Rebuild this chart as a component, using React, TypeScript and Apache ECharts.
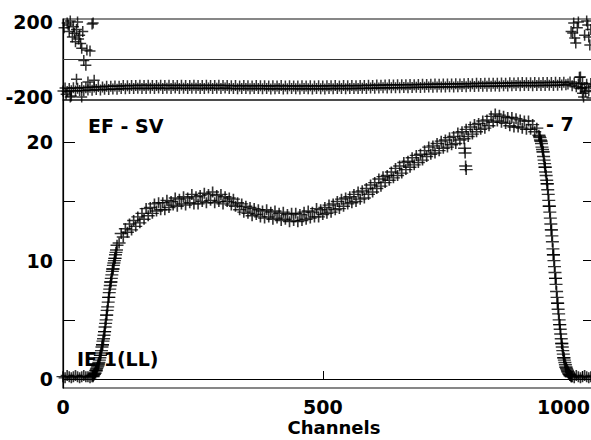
import React, { useEffect, useRef } from "react";
import * as echarts from "echarts";

// One value every CHANNEL_STEP channels, starting at channel 0
const CHANNEL_STEP = 4;

// Bottom panel: counts per channel
const counts: number[] = [
  0.2, 0.1, 0.3, 0.2, 0.1, 0.2, 0.3, 0.2, 0.1, 0.2, 0.3, 0.2, 0.2, 0.1, 0.2, 0.4,
  0.7, 1.2, 2.0, 2.9, 4.0, 5.4, 6.9, 8.2, 9.3, 10.2, 11.3, 11.5, 12.3, 12.0, 12.7, 12.4,
  13.1, 12.6, 13.4, 12.9, 13.7, 13.2, 14.0, 13.5, 14.4, 13.8, 14.5, 14.0, 14.8, 14.2, 14.9, 14.3,
  14.9, 14.3, 15.1, 14.5, 15.0, 14.7, 15.3, 14.6, 15.2, 14.8, 15.4, 14.7, 15.3, 14.9, 15.6, 14.8,
  15.4, 14.8, 15.5, 15.0, 15.7, 14.9, 15.6, 15.1, 15.8, 14.9, 15.5, 15.0, 15.6, 14.8, 15.4, 15.0,
  15.3, 14.7, 15.2, 14.6, 14.9, 14.3, 14.8, 14.1, 14.6, 14.0, 14.5, 13.8, 14.4, 13.9, 14.3, 13.7,
  14.2, 13.6, 14.3, 13.7, 14.1, 13.5, 14.2, 13.6, 14.0, 13.4, 14.1, 13.5, 13.9, 13.3, 14.0, 13.4,
  14.0, 13.3, 13.9, 13.4, 14.1, 13.5, 14.2, 13.6, 14.1, 13.7, 14.4, 13.7, 14.3, 13.9, 14.5, 14.0,
  14.7, 14.1, 14.8, 14.3, 15.0, 14.4, 15.2, 14.6, 15.3, 14.8, 15.4, 14.9, 15.6, 15.0, 15.8, 15.2,
  15.9, 15.3, 16.1, 15.6, 16.4, 15.8, 16.6, 16.1, 16.9, 16.3, 17.1, 16.6, 17.2, 16.8, 17.5, 17.0,
  17.8, 17.2, 18.0, 17.4, 18.3, 17.7, 18.4, 17.9, 18.7, 18.1, 18.9, 18.3, 19.0, 18.5, 19.3, 18.8,
  19.6, 19.0, 19.7, 19.1, 19.9, 19.3, 20.1, 19.5, 20.2, 19.6, 20.4, 19.8, 20.5, 19.9, 20.8, 20.2,
  20.9, 20.3, 21.1, 20.5, 21.3, 20.7, 21.5, 20.9, 21.6, 21.1, 21.8, 21.2, 21.9, 21.4, 22.2, 21.7,
  22.4, 21.8, 22.3, 21.7, 22.2, 21.6, 22.1, 21.4, 22.1, 21.3, 22.0, 21.3, 21.9, 21.2, 21.8, 21.1,
  21.8, 21.1, 21.5, 20.9, 21.2, 20.6, 20.1, 19.2, 17.9, 16.5, 14.6, 12.6, 10.5, 8.5, 6.4, 4.6,
  3.0, 1.8, 1.0, 0.6, 0.3, 0.2, 0.1, 0.3, 0.2, 0.1, 0.2, 0.3, 0.2, 0.1, 0.2, 0.2,
];

// Steep edges, one value per channel
const RISE_START = 57;
const riseCounts: number[] = [
  0.3, 0.2, 0.3, 0.4, 0.5, 0.5, 0.7, 0.8, 0.9, 1.0, 1.1, 1.3, 1.4, 1.6, 1.8, 2.0,
  2.2, 2.4, 2.7, 2.9, 3.2, 3.4, 3.7, 4.0, 4.4, 4.7, 5.0, 5.4, 5.8, 6.1, 6.5, 6.9,
  7.3, 7.6, 7.9, 8.2, 8.5, 8.8, 9.1, 9.3, 9.6, 9.8, 10.0, 10.2, 10.5, 10.7, 10.9,
];
const FALL_START = 917;
const fallCounts: number[] = [
  20.5, 20.4, 20.2, 20.1, 19.9, 19.6, 19.4, 19.2, 18.8, 18.5, 18.2, 17.9, 17.5, 17.2, 16.8, 16.5,
  16.0, 15.6, 15.1, 14.6, 14.1, 13.6, 13.1, 12.6, 12.1, 11.6, 11.0, 10.5, 10.0, 9.5, 9.0, 8.5,
  8.0, 7.4, 6.9, 6.4, 5.9, 5.5, 5.0, 4.6, 4.2, 3.8, 3.4, 3.0, 2.7, 2.4, 2.1, 1.8,
  1.6, 1.4, 1.2, 1.0, 0.9, 0.8, 0.7, 0.6, 0.5, 0.4, 0.4, 0.3, 0.3, 0.2, 0.2,
];

// Isolated points below the band near channel 775: [channel, counts]
const countOutliers: [number, number][] = [
  [773, 19.5], [774, 19.1], [775, 18.0], [776, 17.7],
];

// Top panel: residuals per channel
const residuals: number[] = [
  -168, -152, -170, -155, -166, -150, -168, -153, -165, -149, -167, -151, -163, -148, -164, -147,
  -160, -144, -162, -146, -158, -142, -160, -143, -157, -141, -158, -142, -155, -139, -156, -140,
  -154, -138, -155, -139, -153, -137, -155, -138, -154, -137, -153, -139, -155, -138, -152, -137,
  -154, -138, -153, -137, -155, -139, -152, -138, -154, -137, -153, -139, -155, -138, -153, -137,
  -153, -139, -155, -138, -154, -137, -152, -139, -155, -138, -153, -137, -154, -139, -152, -138,
  -155, -140, -154, -139, -156, -141, -155, -139, -154, -140, -156, -141, -155, -139, -154, -140,
  -156, -140, -155, -141, -157, -140, -156, -141, -155, -139, -157, -141, -156, -140, -155, -141,
  -156, -141, -157, -140, -155, -141, -156, -140, -157, -141, -155, -140, -156, -141, -157, -140,
  -155, -140, -156, -139, -155, -141, -154, -139, -156, -140, -155, -139, -154, -140, -155, -139,
  -153, -138, -154, -137, -152, -138, -153, -136, -152, -137, -151, -136, -152, -135, -151, -136,
  -150, -135, -151, -134, -149, -135, -150, -133, -149, -134, -148, -133, -149, -132, -148, -133,
  -147, -132, -148, -131, -146, -132, -147, -130, -146, -131, -145, -130, -146, -129, -145, -130,
  -144, -129, -145, -128, -143, -129, -144, -127, -143, -128, -142, -127, -143, -126, -142, -127,
  -141, -126, -142, -125, -140, -126, -141, -124, -140, -125, -139, -124, -140, -123, -139, -124,
  -139, -124, -140, -123, -138, -124, -139, -122, -138, -123, -137, -122, -138, -121, -137, -122,
  -136, -121, -135, -130, -120, -140, -126, -145, -131, -155, -125, -150, -132, -165, -128, -143,
];

// Scattered residuals at both ends: [channel, residual]
const residualOutliers: [number, number][] = [
  [2, 170], [6, -185], [8, 195], [10, 184], [12, 150], [14, 205], [16, -195], [18, 120],
  [20, 175], [22, 140], [24, 95], [26, 160], [28, 200], [30, 110], [32, 130], [34, 85],
  [36, 60], [38, 150], [40, -5], [44, -30], [46, 51], [48, -120], [52, 45], [56, 190],
  [58, 195], [60, -110], [14, -200], [36, -200], [26, -105],
  [978, 150], [981, 141], [983, 195], [985, 115], [987, 88], [990, 170], [992, 200],
  [994, -95], [996, -93], [998, -150], [1000, -180], [1002, -200], [1004, 130], [1006, -170],
  [1008, 205], [1010, 184], [1012, 120], [1014, 77], [1016, 160], [1018, -205],
];

const xTickValues = [0, 500, 1000];
const yTickValues = [0, 5, 10, 15, 20];
const yLabelValues = [0, 10, 20];
const residualLabelValues = [-200, 200];

const FONT = "DejaVu Sans";

export default function App() {
  const ref = useRef<HTMLDivElement>(null);

  useEffect(() => {
    const chart = echarts.init(ref.current!, null, { renderer: "svg" });
    const countsData = counts
      .map((v, i) => [i * CHANNEL_STEP, v])
      .concat(riseCounts.map((v, i) => [RISE_START + i, v]))
      .concat(fallCounts.map((v, i) => [FALL_START + i, v]))
      .concat(countOutliers);
    const residualData = residuals
      .map((v, i) => [i * CHANNEL_STEP, v])
      .concat(residualOutliers);

    const plus = "path://M0,5L10,5M5,0L5,10";
    const labelStyle = {
      fontFamily: FONT,
      fontWeight: "bold" as const,
      fontSize: 19,
      color: "#000",
      formatter: (v: number) => String(v),
    };
    const lineStyle = { color: "#000", width: 1.2 };
    const plusStyle = {
      color: "rgba(0,0,0,0)",
      borderColor: "#000",
      borderWidth: 1.5,
    };

    chart.setOption({
      animation: false,
      backgroundColor: "#fff",
      grid: [
        { left: 63, top: 19, height: 81, width: 532, outerBoundsMode: "none", containLabel: false, show: true, borderColor: "#111", borderWidth: 1.2 },
        { left: 63, top: 100, height: 288, width: 532, outerBoundsMode: "none", containLabel: false, show: true, borderColor: "#111", borderWidth: 1.2 },
      ],
      xAxis: [
        { gridIndex: 0, type: "value", min: 0, max: 1024, show: false },
        {
          gridIndex: 1,
          type: "value",
          min: 0,
          max: 1024,
          axisLine: { show: true, lineStyle },
          axisTick: { show: true, inside: true, length: 8, customValues: xTickValues, lineStyle: { color: "#000" } },
          axisLabel: {
            ...labelStyle,
            customValues: xTickValues,
            margin: 11,
            lineHeight: 16,
            formatter: (v: number) => (v >= 1000 ? `{edge|${v}}` : String(v)),
            rich: {
              edge: {
                fontFamily: FONT,
                fontWeight: "bold",
                fontSize: 19,
                lineHeight: 16,
                color: "#000",
                padding: [0, 38, 0, 0],
              },
            },
          },
          splitLine: { show: false },
        },
      ],
      yAxis: [
        {
          gridIndex: 0,
          type: "value",
          min: -216,
          max: 216,
          axisLine: { show: true, lineStyle },
          axisTick: { show: false },
          axisLabel: { ...labelStyle, customValues: residualLabelValues, margin: 10 },
          splitLine: { show: false },
        },
        {
          gridIndex: 1,
          type: "value",
          min: -0.76,
          max: 23.58,
          axisLine: { show: true, lineStyle },
          axisTick: { show: true, inside: true, length: 12, customValues: yTickValues, lineStyle: { color: "#000" } },
          axisLabel: { ...labelStyle, customValues: yLabelValues, margin: 10 },
          splitLine: { show: false },
        },
        {
          gridIndex: 1,
          type: "value",
          position: "right",
          min: -0.76,
          max: 23.58,
          axisLine: { show: true, lineStyle },
          axisTick: { show: true, inside: true, length: 12, customValues: yTickValues, lineStyle: { color: "#000" } },
          axisLabel: { show: false },
          splitLine: { show: false },
        },
      ],
      series: [
        {
          type: "scatter",
          xAxisIndex: 0,
          yAxisIndex: 0,
          data: residualData,
          symbol: plus,
          symbolSize: 11,
          itemStyle: plusStyle,
          markLine: {
            silent: true,
            symbol: "none",
            label: { show: false },
            lineStyle: { color: "#333", width: 1, type: "solid" },
            data: [{ yAxis: 0 }],
          },
        },
        {
          type: "scatter",
          xAxisIndex: 1,
          yAxisIndex: 1,
          data: countsData,
          symbol: plus,
          symbolSize: [13, 11],
          itemStyle: plusStyle,
        },
      ],
      graphic: [
        {
          type: "text",
          z: 0,
          x: 88,
          y: 126,
          style: { text: "EF - SV", fill: "#000", font: `bold 19px "${FONT}"`, verticalAlign: "middle" },
        },
        {
          type: "text",
          z: 0,
          x: 77,
          y: 359,
          style: { text: "IE 1(LL)", fill: "#000", font: `bold 19px "${FONT}"`, verticalAlign: "middle" },
        },
        {
          type: "text",
          z: 0,
          x: 546,
          y: 124,
          style: { text: "- 7", fill: "#000", font: `bold 19px "${FONT}"`, verticalAlign: "middle" },
        },
        {
          type: "text",
          z: 0,
          x: 334,
          y: 427,
          style: { text: "Channels", fill: "#000", font: `bold 18px "${FONT}"`, lineHeight: 15, align: "center", verticalAlign: "middle" },
        },
      ],
    });

    return () => chart.dispose();
  }, []);

  return (
    <div
      ref={ref}
      style={{ position: "fixed", left: 0, top: 0, width: 591, height: 440, background: "#fff" }}
    />
  );
}
